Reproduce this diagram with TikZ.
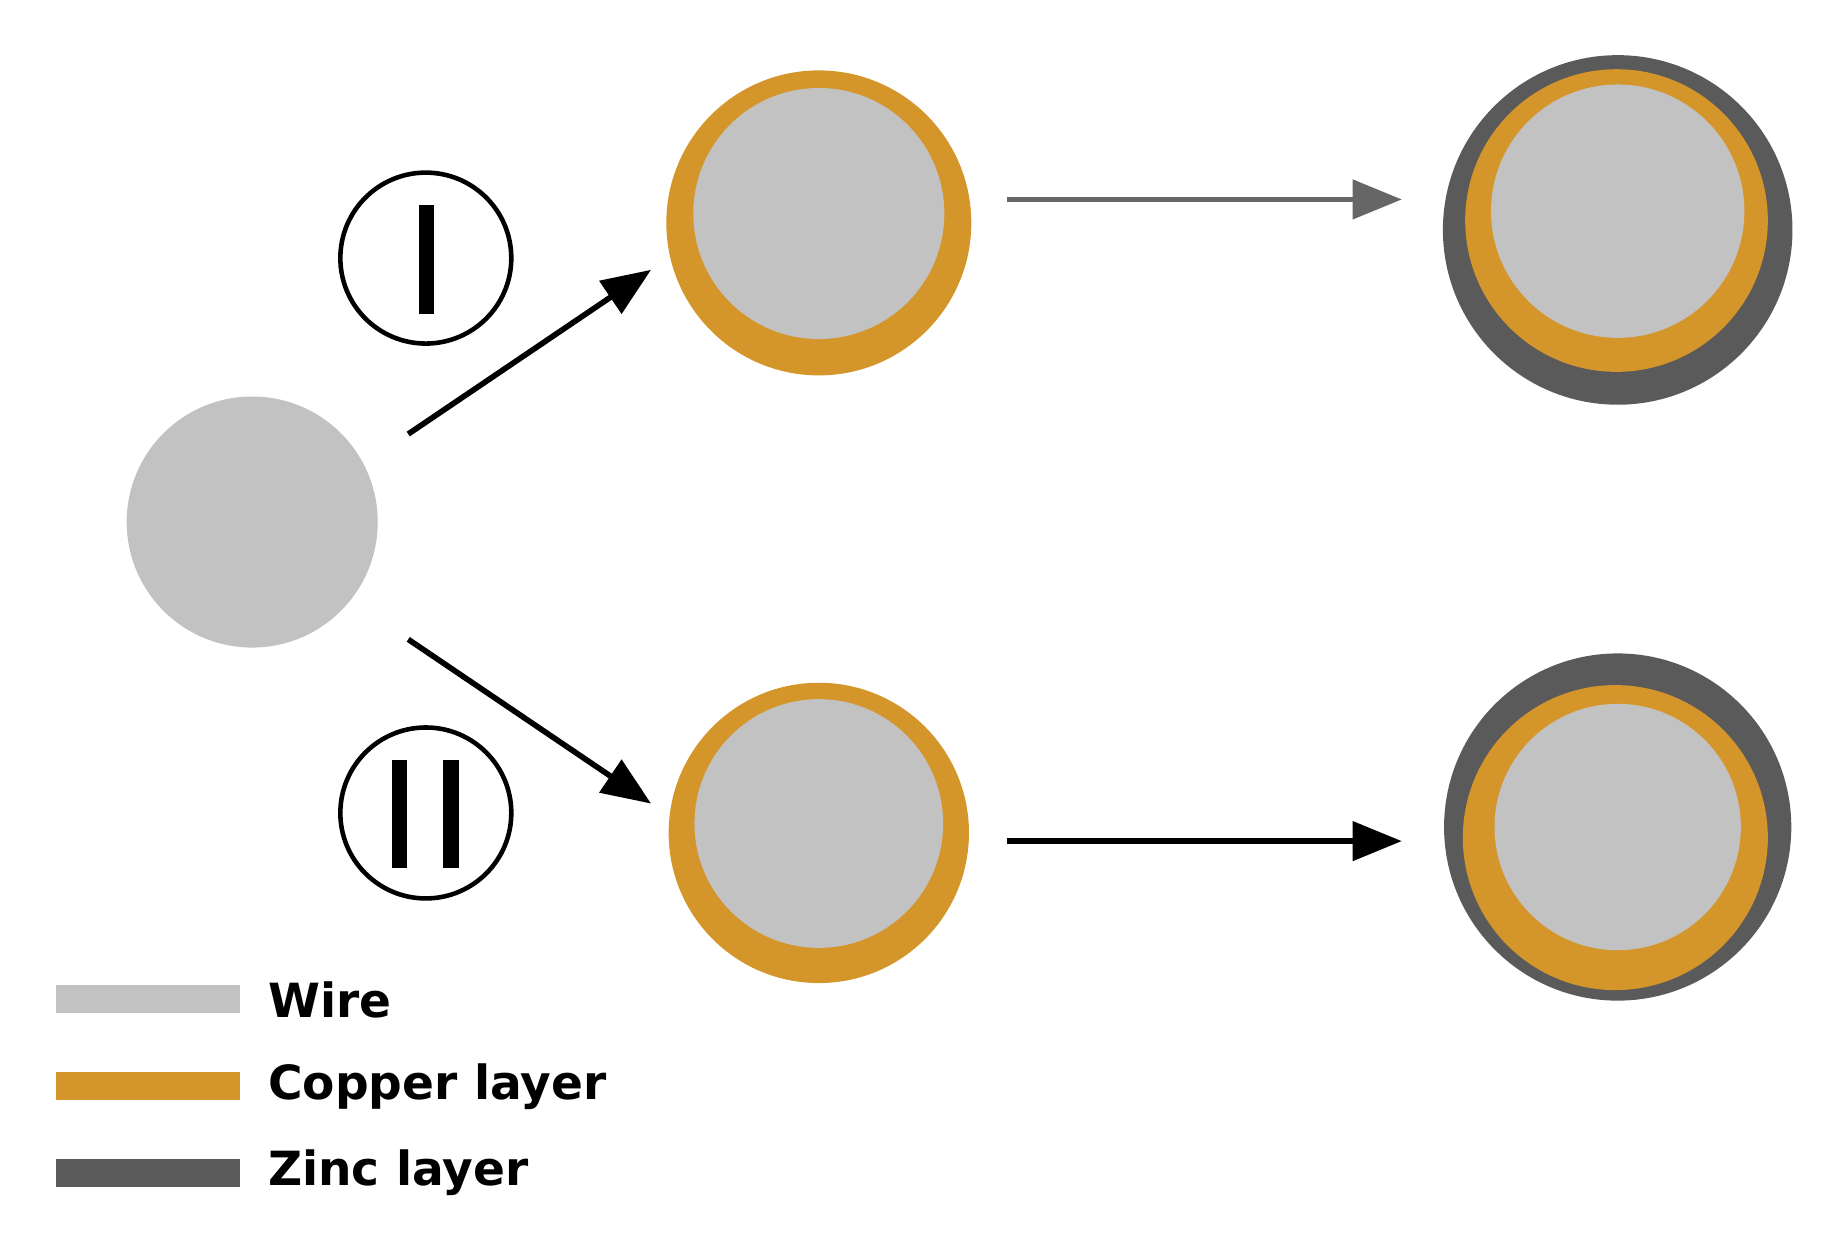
\documentclass[tikz,border=0pt]{standalone}
\usepackage{fontspec}
\setmainfont{DejaVu Sans}
\usetikzlibrary{arrows.meta}
\definecolor{wire}{HTML}{C2C2C2}
\definecolor{copper}{HTML}{D4952A}
\definecolor{zinc}{HTML}{5A5A5A}
\begin{document}
\begin{tikzpicture}[x=0.01173cm,y=-0.01173cm,
  arr/.style={line width=1.6pt,-{Triangle[length=14pt,width=11pt]}},
  lab/.style={font=\fontsize{13.4}{16}\selectfont\bfseries,anchor=west,inner sep=0pt},
  leg/.style={line width=0.28cm},
  num/.style={circle,draw,line width=1.3pt,minimum size=1.71cm,inner sep=0pt}]
\useasboundingbox (0,0) rectangle (1560,1051);
% wire
\fill[wire] (215,445) circle (107);
% top middle
\fill[copper] (698,190) circle (130);
\fill[wire] (698,182) circle (107);
% bottom middle
\fill[copper] (698,710) circle (128);
\fill[wire] (698,702) circle (106);
% top right
\fill[zinc] (1379,196) circle (149);
\fill[copper] (1378,188) circle (129);
\fill[wire] (1379,180) circle (108);
% bottom right
\fill[zinc] (1379,705) circle (148);
\fill[copper] (1377,714) circle (130);
\fill[wire] (1379,705) circle (105);
% connector endpoints
\coordinate (a1) at (348,370); \coordinate (a2) at (555,230);
\coordinate (b1) at (348,545); \coordinate (b2) at (555,685);
\coordinate (c1) at (858,170); \coordinate (c2) at (1195,170);
\coordinate (d1) at (858,717); \coordinate (d2) at (1195,717);
\draw[arr] (a1) -- (a2);
\draw[arr] (b1) -- (b2);
\draw[arr,draw=gray!80!black] (c1) -- (c2);
\draw[arr] (d1) -- (d2);
% numerals
\node[num] (n1) at (363,220) {};
\fill (357,175) rectangle (370,268);
\node[num] (n2) at (363,693) {};
\fill (334,648) rectangle (347,740);
\fill (378,648) rectangle (391,740);
% legend
\draw[leg,wire] (48,852) -- (205,852);
\draw[leg,copper] (48,926) -- (205,926);
\draw[leg,zinc] (48,1000) -- (205,1000);
\node[lab] (l1) at (228,852) {Wire};
\node[lab] (l2) at (228,926) {Copper layer};
\node[lab] (l3) at (228,1000) {Zinc layer};
\end{tikzpicture}
\end{document}
